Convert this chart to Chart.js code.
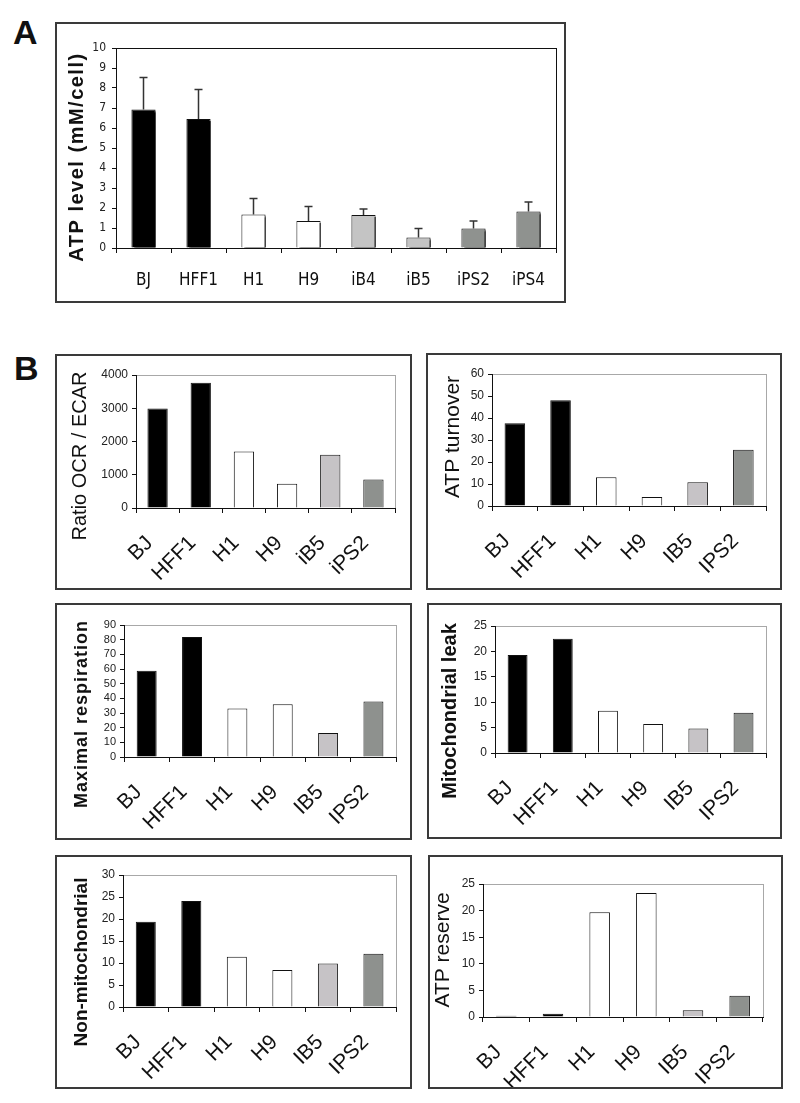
<!DOCTYPE html>
<html>
<head>
<meta charset="utf-8">
<script src="https://cdn.jsdelivr.net/npm/chart.js@4.4.0/dist/chart.umd.min.js"></script>
<style>
  body { margin: 0; background: #fff; width: 800px; height: 1103px; position: relative; overflow: hidden; }
  .box { position: absolute; border: 2px solid #3a3a3a; box-sizing: border-box; }
  .box canvas { position: absolute; left: 0; top: 0; }
  .tag { position: absolute; font: bold 34px 'Liberation Sans', Arial, sans-serif; line-height: 1; color: #111; }
</style>
</head>
<body>
<div class="tag" style="left:13px;top:15px">A</div>
<div class="tag" style="left:14px;top:351px">B</div>
<script>
// categories
const cellsA = ['BJ', 'HFF1', 'H1', 'H9', 'iB4', 'iB5', 'iPS2', 'iPS4'];
const cellsB = ['BJ', 'HFF1', 'H1', 'H9', 'iB5', 'iPS2'];
const cellsB2 = ['BJ', 'HFF1', 'H1', 'H9', 'IB5', 'IPS2'];

// panel A: ATP level and upper error (SD)
const atpLevel = [6.92, 6.45, 1.67, 1.35, 1.65, 0.53, 0.98, 1.82];
const atpError = [1.61, 1.47, 0.80, 0.73, 0.30, 0.45, 0.37, 0.48];

// panel B series
const ratioOcrEcar = [2990, 3770, 1700, 730, 1600, 860];
const atpTurnover = [37.6, 48.1, 13.1, 4.1, 10.8, 25.6];
const maxRespiration = [58.8, 81.9, 33.0, 36.0, 16.3, 37.8];
const mitoLeak = [19.3, 22.5, 8.3, 5.7, 4.8, 7.9];
const nonMito = [19.4, 24.1, 11.4, 8.4, 9.9, 12.1];
const atpReserve = [0.25, 0.63, 19.7, 23.3, 1.26, 4.0];

const colorsA = ['#000', '#000', '#fff', '#fff', '#c4c4c4', '#c4c4c4', '#8f928f', '#8f928f'];
const colorsB = ['#000', '#000', '#fff', '#fff', '#c6c3c6', '#8e918e'];

Chart.defaults.font.family = "'Liberation Sans', Arial, sans-serif";
Chart.defaults.color = '#111';

const NARROW = "'Liberation Sans Narrow', 'DejaVu Sans Condensed', 'Liberation Sans', sans-serif";

// frame, bar shadow, error bars and side title
const panelPlugin = {
  id: 'panel',
  beforeDraw(chart, args, o) {
    const a = chart.chartArea, ctx = chart.ctx;
    ctx.save();
    ctx.strokeStyle = o.frame;
    ctx.lineWidth = 1;
    ctx.strokeRect(Math.round(a.left) + 0.5, Math.round(a.top) + 0.5, Math.round(a.width), Math.round(a.height));
    ctx.restore();
  },
  beforeDatasetsDraw(chart, args, o) {
    if (!o.shadow) return;
    const ctx = chart.ctx;
    ctx.save();
    ctx.shadowColor = '#000';
    ctx.shadowOffsetX = 3;
    ctx.shadowOffsetY = 2;
    ctx.shadowBlur = 0;
  },
  afterDatasetsDraw(chart, args, o) {
    const ctx = chart.ctx;
    if (o.shadow) ctx.restore();
    if (o.errors) {
      const meta = chart.getDatasetMeta(0);
      const y = chart.scales.y;
      const vals = chart.data.datasets[0].data;
      ctx.save();
      ctx.strokeStyle = '#333';
      ctx.lineWidth = 1.5;
      meta.data.forEach((bar, i) => {
        const top = y.getPixelForValue(vals[i] + o.errors[i]);
        const base = y.getPixelForValue(vals[i]);
        ctx.beginPath();
        ctx.moveTo(bar.x, base);
        ctx.lineTo(bar.x, top);
        ctx.moveTo(bar.x - 4, top);
        ctx.lineTo(bar.x + 4, top);
        ctx.stroke();
      });
      ctx.restore();
    }
  },
  afterDraw(chart, args, o) {
    const ctx = chart.ctx;
    ctx.save();
    ctx.translate(o.tx, o.ty);
    ctx.rotate(-Math.PI / 2);
    ctx.font = o.tfont;
    if ('letterSpacing' in ctx) ctx.letterSpacing = o.tspace || '0px';
    ctx.fillStyle = '#111';
    ctx.textAlign = 'center';
    ctx.textBaseline = 'middle';
    ctx.fillText(o.title, 0, 0);
    ctx.restore();
  }
};

function makePanel(p) {
  const div = document.createElement('div');
  div.className = 'box';
  div.style.left = p.box[0] + 'px';
  div.style.top = p.box[1] + 'px';
  div.style.width = p.box[2] + 'px';
  div.style.height = p.box[3] + 'px';
  const canvas = document.createElement('canvas');
  const cx = p.box[0] + 2, cy = p.box[1] + 2;
  const cw = p.box[2] - 4, ch = p.box[3] - 4;
  canvas.width = cw;
  canvas.height = ch;
  canvas.style.width = cw + 'px';
  canvas.style.height = ch + 'px';
  div.appendChild(canvas);
  document.body.appendChild(div);
  const [L, T, R, B] = p.plot;

  new Chart(canvas, {
    type: 'bar',
    data: {
      labels: p.labels,
      datasets: [{
        data: p.values,
        backgroundColor: p.colors,
        borderColor: '#111',
        borderWidth: 1,
        barPercentage: p.bar,
        categoryPercentage: 1
      }]
    },
    options: {
      responsive: false,
      animation: false,
      devicePixelRatio: 1,
      layout: { padding: { left: 0, top: T - cy, right: cx + cw - R, bottom: 0 } },
      plugins: {
        legend: { display: false },
        tooltip: { enabled: false },
        panel: {
          frame: p.frame,
          shadow: p.shadow,
          errors: p.errors,
          title: p.title,
          tfont: p.tfont,
          tspace: p.tspace,
          tx: p.tpos[0] - cx,
          ty: p.tpos[1] - cy
        }
      },
      scales: {
        x: {
          grid: { offset: true, drawOnChartArea: false, tickLength: 5, color: '#111', lineWidth: 1 },
          border: { color: '#111', width: 1 },
          ticks: {
            autoSkip: false,
            maxRotation: p.rot,
            minRotation: p.rot,
            padding: p.xpad,
            labelOffset: p.xoff,
            color: '#111',
            font: p.xfont
          },
          afterFit: s => { s.height = cy + ch - B; }
        },
        y: {
          min: 0,
          max: p.yMax,
          grid: { drawOnChartArea: false, tickLength: 4, color: '#111', lineWidth: 1 },
          border: { color: '#111', width: 1 },
          ticks: {
            stepSize: p.yStep,
            autoSkip: false,
            padding: p.ypad,
            color: '#222',
            font: p.yfont,
            callback: v => String(v)
          },
          afterFit: s => { s.width = L - cx; }
        }
      }
    },
    plugins: [panelPlugin]
  });
}

const tickB = { size: 12 };
const labB = { size: 21 };

// panel A
makePanel({
  box: [55, 22, 511, 281], plot: [116, 48, 556, 248],
  labels: cellsA, values: atpLevel, colors: colorsA, errors: atpError,
  yMax: 10, yStep: 1, bar: 0.44, rot: 0, xpad: 17, xoff: 0,
  xfont: { family: NARROW, size: 17 }, yfont: { family: NARROW, size: 12 }, ypad: 6,
  frame: '#111', shadow: true,
  title: 'ATP level (mM/cell)', tfont: "bold 20px 'Liberation Sans', Arial, sans-serif", tspace: '1.5px', tpos: [77, 157]
});

// panel B
makePanel({
  box: [55, 354, 357, 236], plot: [136, 375, 401, 508],
  labels: cellsB, values: ratioOcrEcar, colors: colorsB,
  yMax: 4000, yStep: 1000, bar: 0.47, rot: 45, xpad: 18, xoff: -8,
  xfont: labB, yfont: tickB, ypad: 4, frame: '#a8a8a8',
  title: 'Ratio OCR / ECAR', tfont: "20px 'Liberation Sans', Arial, sans-serif", tpos: [80, 456]
});
makePanel({
  box: [426, 353, 356, 237], plot: [492, 374, 770, 506],
  labels: cellsB2, values: atpTurnover, colors: colorsB,
  yMax: 60, yStep: 10, bar: 0.45, rot: 45, xpad: 18, xoff: -8,
  xfont: labB, yfont: tickB, ypad: 4, frame: '#a8a8a8',
  title: 'ATP turnover', tfont: "21px 'Liberation Sans', Arial, sans-serif", tpos: [453, 437]
});
makePanel({
  box: [55, 603, 357, 237], plot: [124, 625, 401, 757],
  labels: cellsB2, values: maxRespiration, colors: colorsB,
  yMax: 90, yStep: 10, bar: 0.44, rot: 45, xpad: 18, xoff: -8,
  xfont: labB, yfont: { size: 11 }, ypad: 4, frame: '#a8a8a8',
  title: 'Maximal respiration', tfont: "bold 18px 'Liberation Sans', Arial, sans-serif", tspace: '1px', tpos: [82, 714]
});
makePanel({
  box: [427, 603, 355, 236], plot: [495, 626, 772, 753],
  labels: cellsB2, values: mitoLeak, colors: colorsB,
  yMax: 25, yStep: 5, bar: 0.44, rot: 45, xpad: 18, xoff: -8,
  xfont: labB, yfont: tickB, ypad: 4, frame: '#a8a8a8',
  title: 'Mitochondrial leak', tfont: "bold 20px 'Liberation Sans', Arial, sans-serif", tpos: [450, 711]
});
makePanel({
  box: [55, 855, 357, 234], plot: [123, 875, 401, 1007],
  labels: cellsB2, values: nonMito, colors: colorsB,
  yMax: 30, yStep: 5, bar: 0.44, rot: 45, xpad: 18, xoff: -8,
  xfont: labB, yfont: tickB, ypad: 4, frame: '#a8a8a8',
  title: 'Non-mitochondrial', tfont: "bold 19px 'Liberation Sans', Arial, sans-serif", tpos: [82, 962]
});
makePanel({
  box: [428, 855, 355, 234], plot: [483, 884, 763, 1017],
  labels: cellsB2, values: atpReserve, colors: colorsB,
  yMax: 25, yStep: 5, bar: 0.44, rot: 45, xpad: 18, xoff: -8,
  xfont: labB, yfont: tickB, ypad: 4, frame: '#a8a8a8',
  title: 'ATP reserve', tfont: "21px 'Liberation Sans', Arial, sans-serif", tpos: [443, 950]
});
</script>
</body>
</html>
